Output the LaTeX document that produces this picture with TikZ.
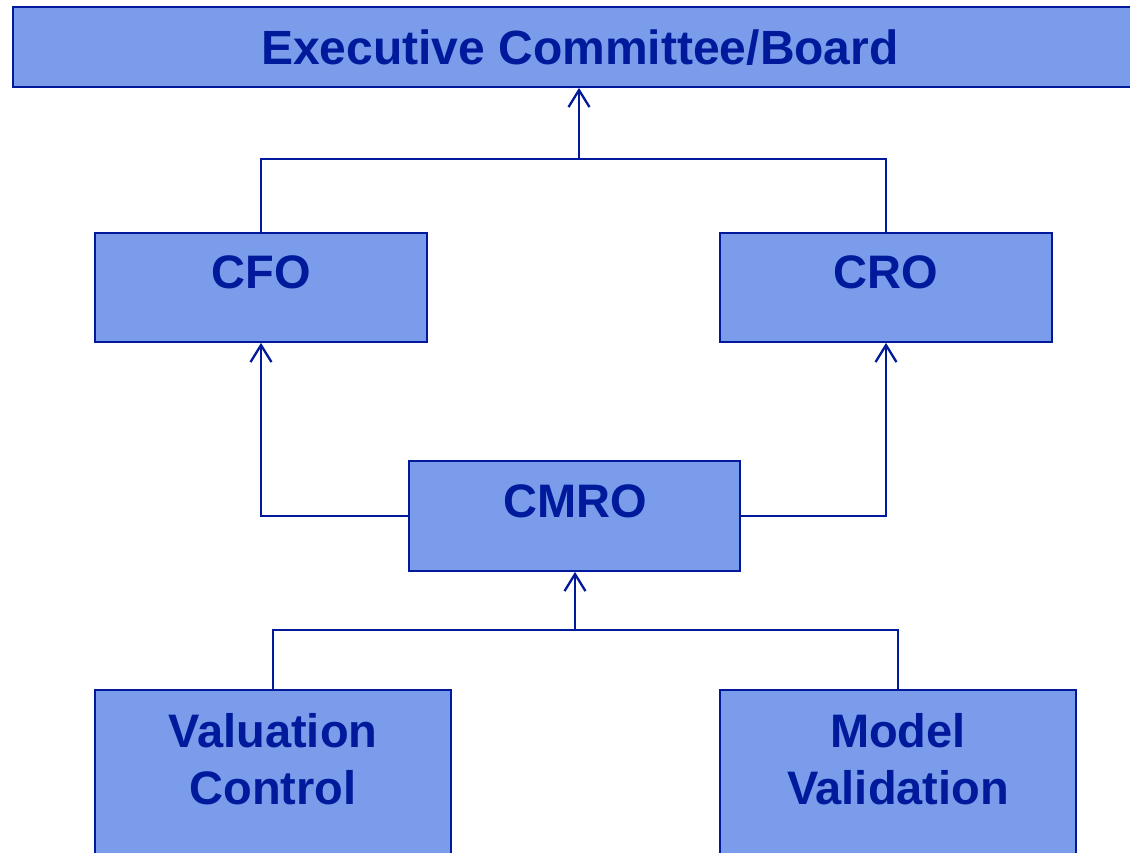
\documentclass[tikz,border=0pt]{standalone}
\usepackage{fontspec}
\setmainfont{Liberation Sans}
\usetikzlibrary{arrows.meta}
\definecolor{boxfill}{RGB}{122,156,235}
\definecolor{navy}{RGB}{0,26,155}
\begin{document}
\begin{tikzpicture}[x=1pt,y=-1pt,
  box/.style={draw=navy, fill=boxfill, line width=1.8pt, rectangle, inner sep=0pt},
  lbl/.style={text=navy, font=\bfseries\fontsize{47}{57}\selectfont, align=center, inner sep=0pt},
  link/.style={draw=navy, line width=2.3pt},
  up/.style={link, -{Straight Barb[length=17pt,width=21pt,line width=2.3pt]}}]
\useasboundingbox (0,0) rectangle (1130,852);
\clip (0,0) rectangle (1130,852);
% boxes
\node[box, minimum width=1140pt, minimum height=80pt] (board) at (583,47) {};
\node[box, minimum width=332pt, minimum height=109pt] (cfo) at (261,287.5) {};
\node[box, minimum width=332pt, minimum height=109pt] (cro) at (886,287.5) {};
\node[box, minimum width=331pt, minimum height=110pt] (cmro) at (574.5,516) {};
\node[box, minimum width=356pt, minimum height=200pt] (val) at (273,790) {};
\node[box, minimum width=356pt, minimum height=200pt] (mv) at (898,790) {};
% labels
\node[lbl, font=\bfseries\fontsize{48}{57}\selectfont] (boardt) at (580,48) {Executive Committee/Board};
\node[lbl] (cfot) at (261,272) {CFO};
\node[lbl] (crot) at (886,272) {CRO};
\node[lbl] (cmrot) at (575,501) {CMRO};
\node[lbl] (valt) at (273,759) {Valuation\\Control};
\node[lbl] (mvt) at (898,759) {Model\\Validation};
% junction points
\coordinate (j1) at (579,159);
\coordinate (j2) at (575,630);
% CFO and CRO report to the board
\draw[link] (cfo.north) |- (j1) -| (cro.north);
\draw[up] (j1) -- (board.south -| j1);
% CMRO reports to CFO and CRO
\draw[up] (cmro.west) -| (cfo.south);
\draw[up] (cmro.east) -| (cro.south);
% valuation control and model validation report to CMRO
\draw[link] (val.north) |- (j2) -| (mv.north);
\draw[up] (j2) -- (cmro.south -| j2);
\end{tikzpicture}
\end{document}
